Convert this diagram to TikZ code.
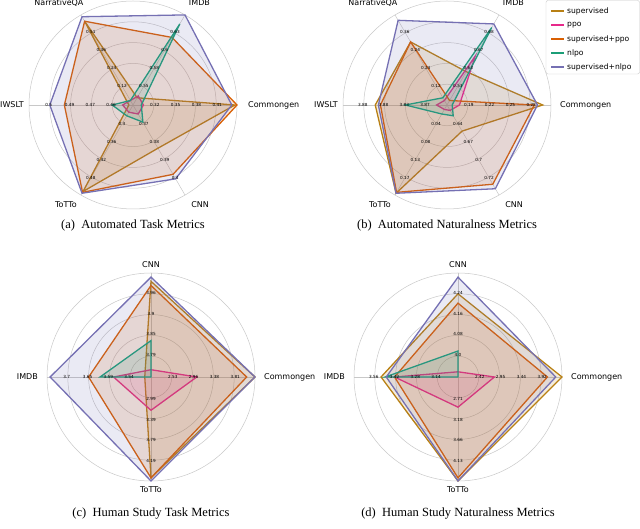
\documentclass[tikz,border=0pt]{standalone}
\usepackage{fontspec}
\setmainfont{Liberation Serif}
\newfontfamily\dv{DejaVu Sans}
\definecolor{csup}{RGB}{184,128,20}
\definecolor{cppo}{RGB}{231,41,138}
\definecolor{csppo}{RGB}{217,95,2}
\definecolor{cnlpo}{RGB}{27,158,119}
\definecolor{csnlpo}{RGB}{117,112,179}
\definecolor{gridc}{RGB}{200,200,200}
\tikzset{
  ser/.style={draw=#1, fill=#1, fill opacity=.15, line width=1.3pt, line join=miter},
  gridline/.style={draw=gridc, line width=0.5pt},
  tk/.style={font=\dv\fontsize{4.2}{5}\selectfont, inner sep=0.5pt},
  axl/.style={font=\dv\fontsize{8}{9}\selectfont, inner sep=1pt},
  captxt/.style={font=\fontsize{12.5}{14}\selectfont},
  leg/.style={font=\dv\fontsize{7.6}{9}\selectfont, anchor=west, inner sep=0pt}
}
\def\R{104}
\newcommand\sixpoly[7]{\draw[#1] (0:{#2*\R}) -- (60:{#3*\R}) -- (120:{#4*\R}) -- (180:{#5*\R}) -- (240:{#6*\R}) -- (300:{#7*\R}) -- cycle;}
\newcommand\fourpoly[5]{\draw[#1] (90:{#2*\R}) -- (0:{#3*\R}) -- (270:{#4*\R}) -- (180:{#5*\R}) -- cycle;}
\newcommand\rgrid[1]{%
  \foreach \k in {1,...,4}{\draw[gridline] (0,0) circle ({\k*0.2*\R});}
  \draw[gridline] (0,0) circle (\R);
  \foreach \a in {#1}{\draw[gridline] (0,0) -- (\a:\R);}}
\newcommand\tks[5]{%
  \node[tk] (t#1a) at (#1:{0.21*\R}) {#2};
  \node[tk] (t#1b) at (#1:{0.41*\R}) {#3};
  \node[tk] (t#1c) at (#1:{0.61*\R}) {#4};
  \node[tk] (t#1d) at (#1:{0.81*\R}) {#5};}
\begin{document}
\begin{tikzpicture}[x=1pt,y=1pt]
\useasboundingbox (0,0) rectangle (640,529);
% ---------- (a)
\begin{scope}[shift={(133,424)}]
\rgrid{0,60,...,300}
\sixpoly{ser=csup}{0.98}{0.08}{0.93}{0.04}{0.96}{0.48}
\sixpoly{ser=cppo}{0.1}{0.1}{0.05}{0.1}{0.08}{0.1}
\sixpoly{ser=csppo}{1.0}{0.75}{0.93}{0.66}{0.97}{0.77}
\sixpoly{ser=cnlpo}{0.08}{0.9}{0.05}{0.2}{0.12}{0.19}
\sixpoly{ser=csnlpo}{0.95}{1.0}{0.98}{0.8}{0.98}{0.82}
\tks{0}{0.32}{0.35}{0.38}{0.41}
\tks{60}{0.55}{0.58}{0.6}{0.63}
\tks{120}{0.12}{0.24}{0.36}{0.51}
\tks{180}{0.46}{0.47}{0.49}{0.5}
\tks{240}{0.3}{0.36}{0.42}{0.48}
\tks{300}{0.37}{0.38}{0.39}{0.4}
\node[axl,anchor=west] (aC) at (0:{\R+10}) {Commongen};
\node[axl] (aI) at (57:122) {IMDB};
\node[axl] (aN) at (126:126) {NarrativeQA};
\node[axl,anchor=east] (aW) at (180:{\R+4}) {IWSLT};
\node[axl] (aT) at (236:120) {ToTTo};
\node[axl] (aX) at (304:120) {CNN};
\node[captxt] (capa) at (0,-121) {(a)\enspace Automated Task Metrics};
\end{scope}
% ---------- (b)
\begin{scope}[shift={(447,424)}]
\rgrid{0,60,...,300}
\sixpoly{ser=csup}{0.92}{0.37}{0.7}{0.69}{0.98}{0.29}
\sixpoly{ser=cppo}{0.12}{0.54}{0.05}{0.1}{0.05}{0.06}
\sixpoly{ser=csppo}{0.84}{0.05}{0.7}{0.64}{0.97}{0.88}
\sixpoly{ser=cnlpo}{0.05}{0.86}{0.08}{0.4}{0.1}{0.12}
\sixpoly{ser=csnlpo}{0.87}{0.9}{0.94}{0.66}{0.98}{0.93}
\tks{0}{0.19}{0.22}{0.25}{0.28}
\tks{60}{0.53}{0.63}{0.67}{0.68}
\tks{120}{0.12}{0.24}{0.24}{0.36}
\tks{180}{3.87}{3.83}{3.88}{3.88}
\tks{240}{0.04}{0.08}{0.13}{0.17}
\tks{300}{0.64}{0.67}{0.7}{0.72}
\node[axl,anchor=west] (bC) at (0:{\R+8}) {Commongen};
\node[axl] (bI) at (57:122) {IMDB};
\node[axl] (bN) at (126:126) {NarrativeQA};
\node[axl,anchor=east] (bW) at (180:{\R+4}) {IWSLT};
\node[axl] (bT) at (236:120) {ToTTo};
\node[axl] (bX) at (304:120) {CNN};
\node[captxt] (capb) at (0,-121) {(b)\enspace Automated Naturalness Metrics};
\end{scope}
% ---------- (c)
\begin{scope}[shift={(151,152)}]
\rgrid{0,90,180,270}
\fourpoly{ser=csup}{0.92}{1.0}{0.97}{0.06}
\fourpoly{ser=cppo}{0.07}{0.44}{0.32}{0.36}
\fourpoly{ser=csppo}{0.88}{0.92}{0.97}{0.6}
\fourpoly{ser=cnlpo}{0.35}{0.0}{0.0}{0.49}
\fourpoly{ser=csnlpo}{0.96}{1.0}{1.0}{0.97}
\tks{90}{3.79}{3.85}{3.9}{3.96}
\tks{0}{2.53}{2.96}{3.38}{3.81}
\tks{270}{2.99}{3.39}{3.79}{4.19}
\tks{180}{3.54}{3.59}{3.65}{3.7}
\node[axl] (cX) at (90:{\R+8}) {CNN};
\node[axl,anchor=west] (cC) at (0:{\R+8}) {Commongen};
\node[axl] (cT) at (270:{\R+9}) {ToTTo};
\node[axl,anchor=east] (cI) at (180:{\R+8}) {IMDB};
\node[captxt] (capc) at (0,-137) {(c)\enspace Human Study Task Metrics};
\end{scope}
% ---------- (d)
\begin{scope}[shift={(458,152)}]
\rgrid{0,90,180,270}
\fourpoly{ser=csup}{0.8}{1.0}{1.0}{0.74}
\fourpoly{ser=cppo}{0.05}{0.35}{0.29}{0.61}
\fourpoly{ser=csppo}{0.71}{0.86}{0.97}{0.61}
\fourpoly{ser=cnlpo}{0.25}{0.0}{0.0}{0.7}
\fourpoly{ser=csnlpo}{0.96}{0.94}{1.0}{0.69}
\tks{90}{4.0}{4.08}{4.16}{4.24}
\tks{0}{2.42}{2.95}{3.44}{3.92}
\tks{270}{2.71}{3.18}{3.66}{4.13}
\tks{180}{3.14}{3.28}{3.42}{3.56}
\node[axl] (dX) at (90:{\R+8}) {CNN};
\node[axl,anchor=west] (dC) at (0:{\R+8}) {Commongen};
\node[axl] (dT) at (270:{\R+9}) {ToTTo};
\node[axl,anchor=east] (dI) at (180:{\R+8}) {IMDB};
\node[captxt] (capd) at (0,-137) {(d)\enspace Human Study Naturalness Metrics};
\end{scope}
% ---------- legend
\draw[draw=gridc, fill=white, rounded corners=2pt] (546,455) rectangle (639.5,528.5);
\foreach \c/\t [count=\i] in {csup/supervised,cppo/ppo,csppo/supervised+ppo,cnlpo/nlpo,csnlpo/supervised+nlpo}{
  \draw[\c, line width=1.5pt] (551,{532-\i*14}) -- (564,{532-\i*14});
  \node[leg] (l\i) at (567,{532-\i*14}) {\t};
}
\end{tikzpicture}
\end{document}
